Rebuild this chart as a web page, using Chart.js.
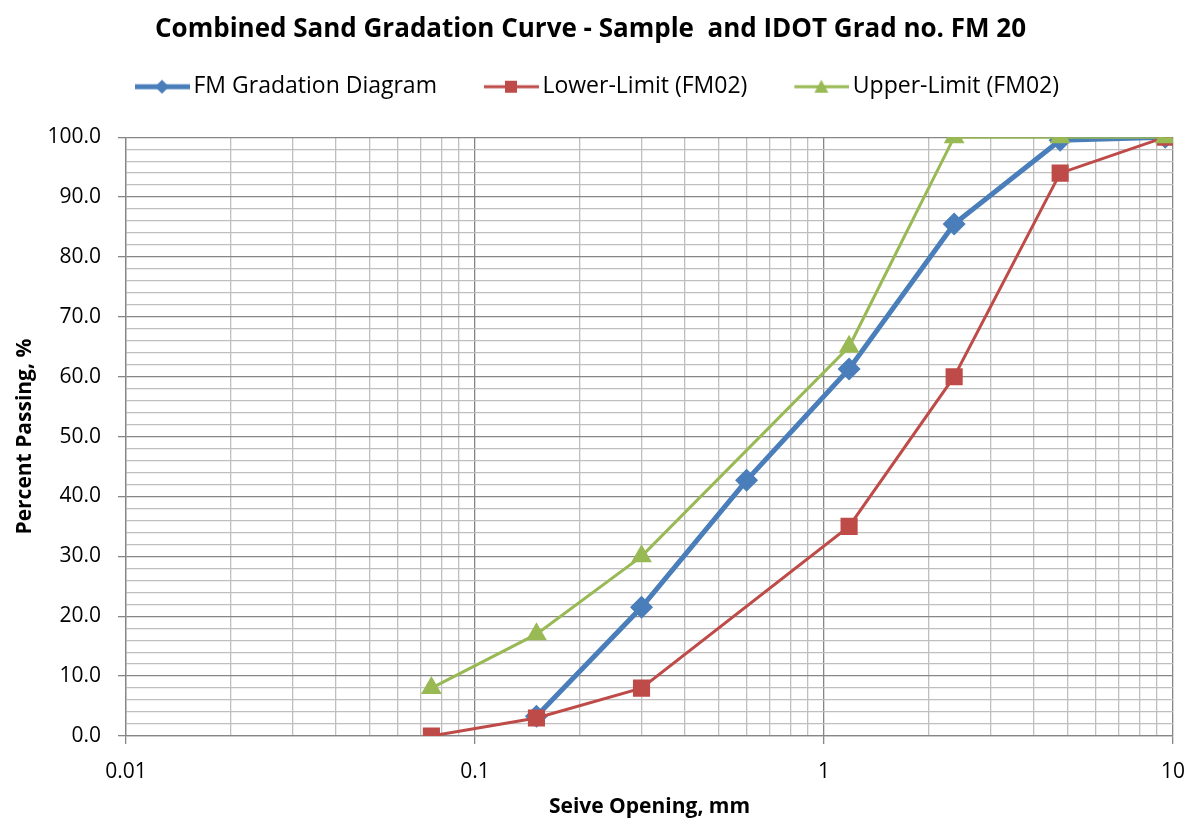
<!DOCTYPE html>
<html>
<head>
<meta charset="utf-8">
<script src="https://cdn.jsdelivr.net/npm/chart.js@4.4.1/dist/chart.umd.min.js"></script>
<style>
  html, body { margin: 0; padding: 0; background: #fff; }
  #wrap { width: 1195px; height: 822px; }
</style>
</head>
<body>
<div id="wrap"><canvas id="gradChart"></canvas></div>
<script>
// sieve openings (mm) and percent passing for each curve
var sieveSizes = [9.5, 4.75, 2.36, 1.18, 0.6, 0.3, 0.15, 0.075];
var fmPassing = [100, 99.5, 85.5, 61.3, 42.7, 21.5, 3.3, null];
var lowerLimit = [100, 94, 60, 35, null, 8, 3, 0];
var upperLimit = [100, 100, 100, 65, null, 30, 17, 8];
var xTickLabels = [0.01, 0.1, 1, 10];

var BLUE = '#4A7EBB', RED = '#BE4B48', GREEN = '#98B954';
var FONT = "'Open Sans', sans-serif";

function toPoints(values) {
    var pts = [];
    for (var i = 0; i < sieveSizes.length; i++) {
        if (values[i] !== null) pts.push({ x: sieveSizes[i], y: values[i] });
    }
    return pts;
}

function isDecade(v) {
    var l = Math.log10(v);
    return Math.abs(l - Math.round(l)) < 1e-9;
}

// line + marker swatch for the legend; canvas is wider than the legend box,
// the swatch sits in its right part so the gap to the text stays small
function legendSwatch(color, lineW, style) {
    var c = document.createElement('canvas');
    c.width = 100; c.height = 18;
    var g = c.getContext('2d');
    var x0 = 45, cx = x0 + 27;
    g.strokeStyle = color; g.lineWidth = lineW;
    g.beginPath(); g.moveTo(x0, 9); g.lineTo(x0 + 55, 9); g.stroke();
    g.fillStyle = color;
    g.beginPath();
    if (style === 'diamond') {
        g.moveTo(cx, 2); g.lineTo(cx + 7, 9); g.lineTo(cx, 16); g.lineTo(cx - 7, 9);
    } else if (style === 'square') {
        g.rect(cx - 6, 3, 12, 12);
    } else {
        g.moveTo(cx, 2); g.lineTo(cx + 7, 15); g.lineTo(cx - 7, 15);
    }
    g.closePath(); g.fill();
    return c;
}

var swatches = [
    legendSwatch(BLUE, 5, 'diamond'),
    legendSwatch(RED, 3, 'square'),
    legendSwatch(GREEN, 3, 'triangle')
];

// legend is left-aligned; move its box so the first swatch starts near x=135
var legendNudge = {
    id: 'legendNudge',
    afterLayout: function (chart) {
        if (chart.legend) {
            chart.legend.left += 80;
            chart.legend.right += 80;
        }
    }
};

var ctx = document.getElementById('gradChart').getContext('2d');
var chart = new Chart(ctx, {
    type: 'line',
    data: {
        datasets: [{
            label: 'FM Gradation Diagram',
            data: toPoints(fmPassing),
            xAxisID: 'x',
            yAxisID: 'y',
            borderColor: BLUE,
            backgroundColor: BLUE,
            borderWidth: 5,
            pointStyle: 'rectRot',
            pointRadius: 8,
            pointHoverRadius: 8,
            order: 2
        }, {
            label: 'Lower-Limit (FM02)',
            data: toPoints(lowerLimit),
            xAxisID: 'x',
            yAxisID: 'y',
            borderColor: RED,
            backgroundColor: RED,
            borderWidth: 3,
            pointStyle: 'rect',
            pointRadius: 10,
            pointHoverRadius: 10,
            order: 1
        }, {
            label: 'Upper-Limit (FM02)',
            data: toPoints(upperLimit),
            xAxisID: 'x',
            yAxisID: 'y',
            borderColor: GREEN,
            backgroundColor: GREEN,
            borderWidth: 3,
            pointStyle: 'triangle',
            pointRadius: 9,
            pointHoverRadius: 9,
            order: 0
        }]
    },
    plugins: [legendNudge],
    options: {
        responsive: true,
        maintainAspectRatio: false,
        animation: false,
        layout: { padding: { left: 8, right: 22, top: 0, bottom: 0 } },
        plugins: {
            title: {
                display: true,
                text: 'Combined Sand Gradation Curve - Sample  and IDOT Grad no. FM 20',
                color: '#000',
                font: { family: FONT, size: 26, weight: 'bold' },
                padding: { top: 14, bottom: 20 }
            },
            legend: {
                position: 'top',
                align: 'start',
                labels: {
                    color: '#000',
                    font: { family: FONT, size: 23 },
                    usePointStyle: true,
                    pointStyleWidth: 84,
                    boxHeight: 18,
                    padding: 10,
                    generateLabels: function (chart) {
                        return chart.data.datasets.map(function (ds, i) {
                            return {
                                text: ds.label,
                                pointStyle: swatches[i],
                                fillStyle: ds.borderColor,
                                strokeStyle: ds.borderColor,
                                lineWidth: 0,
                                hidden: false,
                                datasetIndex: i
                            };
                        });
                    }
                }
            },
            tooltip: { enabled: false }
        },
        scales: {
            x: {
                type: 'logarithmic',
                min: 0.01,
                max: 10,
                afterBuildTicks: function (scale) {
                    var ticks = [];
                    for (var d = 0.01; d < 10; d *= 10) {
                        for (var m = 1; m < 10; m++) ticks.push({ value: +(m * d).toPrecision(6) });
                    }
                    ticks.push({ value: 10 });
                    scale.ticks = ticks;
                },
                afterFit: function (scale) {
                    scale.height = 86;
                    // don't let the "10" label push the plot edge inwards
                    scale.paddingLeft = 0;
                    scale.paddingRight = 0;
                },
                ticks: {
                    autoSkip: false,
                    maxRotation: 0,
                    color: '#000',
                    font: { family: FONT, size: 21 },
                    padding: 15,
                    callback: function (v) {
                        return xTickLabels.indexOf(+v) >= 0 ? String(v) : '';
                    }
                },
                grid: {
                    color: function (c) { return c.tick && isDecade(c.tick.value) ? '#868686' : '#BFBFBF'; },
                    tickColor: function (c) { return c.tick && isDecade(c.tick.value) ? '#868686' : 'rgba(0,0,0,0)'; },
                    tickLength: 8,
                    lineWidth: 1.3
                },
                border: { color: '#868686', width: 1.3 },
                title: {
                    display: true,
                    text: 'Seive Opening, mm',
                    color: '#000',
                    font: { family: FONT, size: 21, weight: 'bold' },
                    padding: { top: 4, bottom: 2 }
                }
            },
            // empty axis that only keeps a gap between legend and plot
            gap: {
                type: 'linear',
                axis: 'x',
                position: 'top',
                grid: { display: false, drawTicks: false },
                ticks: { display: false },
                border: { display: false },
                afterFit: function (scale) { scale.height = 29; }
            },
            y: {
                min: 0,
                max: 100,
                afterFit: function (scale) { scale.width = 118; },
                ticks: {
                    stepSize: 2,
                    autoSkip: false,
                    color: '#000',
                    font: { family: FONT, size: 21 },
                    padding: 17,
                    callback: function (v) { return v % 10 === 0 ? v.toFixed(1) : ''; }
                },
                grid: {
                    color: function (c) { return c.tick && c.tick.value % 10 === 0 ? '#868686' : '#BFBFBF'; },
                    tickColor: function (c) { return c.tick && c.tick.value % 10 === 0 ? '#868686' : 'rgba(0,0,0,0)'; },
                    tickLength: 8,
                    lineWidth: 1.3
                },
                border: { color: '#868686', width: 1.3 },
                title: {
                    display: true,
                    text: 'Percent Passing, %',
                    color: '#000',
                    font: { family: FONT, size: 21, weight: 'bold' },
                    padding: { bottom: 2 }
                }
            }
        }
    }
});
</script>
</body>
</html>
